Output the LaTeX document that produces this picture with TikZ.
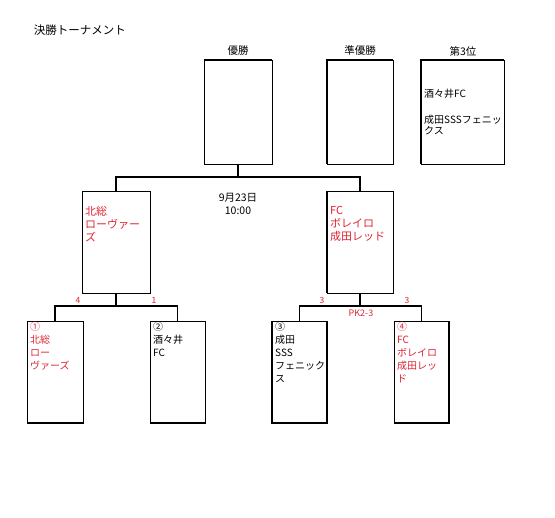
\documentclass[tikz,border=0pt]{standalone}
\usepackage{fontspec}
\setmainfont{Noto Sans CJK JP}
\usetikzlibrary{positioning}
\definecolor{winred}{RGB}{222,36,52}

\begin{document}
\begin{tikzpicture}[x=1pt,y=-1pt,
  box/.style={draw,line width=.7pt,inner sep=0pt,outer sep=0pt},
  heavy/.style={line width=1.8pt},
  bracket/.style={line width=1.8pt},
  team/.style={anchor=north west,align=left,inner sep=0pt,font=\fontsize{10}{13}\selectfont},
  head/.style={font=\fontsize{10.5}{12}\selectfont},
  score/.style={text=winred,font=\fontsize{8.5}{9}\selectfont,inner sep=0pt}]
\useasboundingbox[fill=white] (0,0) rectangle (555,518);
\node[font=\fontsize{11.5}{13}\selectfont] (title) at (80,30) {決勝トーナメント};
% placing boxes
\node[head] (h1) at (238,51) {優勝};
\node[head] (h2) at (360,51) {準優勝};
\node[head] (h3) at (463,51) {第3位};
\node[box,minimum width=68pt,minimum height=104pt] (f1) at (238,112) {};
\node[box,minimum width=66pt,minimum height=104pt] (f2) at (360,112) {};
\node[box,minimum width=83pt,minimum height=104pt] (f3) at (462.5,112) {};
\node[box,minimum width=68pt,minimum height=102pt] (sL) at (116,242) {};
\node[box,minimum width=66pt,minimum height=102pt] (sR) at (360,242) {};
\node[box,minimum width=56pt,minimum height=102pt] (q1) at (55,372) {};
\node[box,minimum width=55pt,minimum height=102pt] (q2) at (177.5,372) {};
\node[box,minimum width=55pt,minimum height=102pt] (q3) at (299.5,372) {};
\node[box,minimum width=55pt,minimum height=102pt] (q4) at (421.5,372) {};
% heavy borders
\draw[heavy] (f1.north west) -- (f1.north east);
\draw[heavy] (f2.south west) -- (f2.north west) -- (f2.north east);
\draw[heavy] (f3.south west) -- (f3.north west) -- (f3.north east);
\draw[heavy] (sR.north west) -- (sR.south west);
\draw[heavy] (q1.south west) -- (q1.south east);
\draw[heavy] (q2.south west) -- (q2.south east);
\draw[heavy] (q3.north west) -- (q3.south west) -- (q3.south east) -- (q3.north east);
\draw[heavy] (q4.south west) -- (q4.south east) -- (q4.north east);
% bracket
\coordinate (jF) at (238,177);
\coordinate (jL) at (116,306);
\coordinate (jR) at (360,306);
\draw[bracket] (f1.south) -- (jF);
\draw[bracket] (sL.north) |- (jF) -| (sR.north);
\draw[bracket] (sL.south) -- (jL);
\draw[bracket] (q1.north) |- (jL) -| (q2.north);
\draw[bracket] (sR.south) -- (jR);
\draw[bracket] (q3.north) |- (jR) -| (q4.north);
% texts
\node[team] (t3a) at ([xshift=3pt,yshift=-29pt]f3.north west) {酒々井FC};
\node[team,font=\fontsize{10}{11}\selectfont] (t3b) at ([xshift=3pt,yshift=-55pt]f3.north west) {成田SSSフェニッ\\クス};
\node[align=center,font=\fontsize{10.5}{13}\selectfont] (date) at (238,203.5) {9月23日\\10:00};
\node[team,text=winred,font=\fontsize{11}{13}\selectfont] (tL) at ([xshift=3pt,yshift=-15.5pt]sL.north west) {北総\\ローヴァー\\ズ};
\node[team,text=winred,font=\fontsize{11}{13}\selectfont] (tR) at ([xshift=3pt,yshift=-15.5pt]sR.north west) {FC\\ボレイロ\\成田レッド};
\node[team,text=winred] (t1) at ([xshift=3pt,yshift=-1pt]q1.north west) {①\\北総\\ロー\\ヴァーズ};
\node[team] (t2) at ([xshift=3pt,yshift=-1pt]q2.north west) {②\\酒々井\\FC};
\node[team] (t3) at ([xshift=3pt,yshift=-1pt]q3.north west) {③\\成田\\SSS\\フェニック\\ス};
\node[team,text=winred] (t4) at ([xshift=3pt,yshift=-1pt]q4.north west) {④\\FC\\ボレイロ\\成田レッ\\ド};
% scores
\node[score] (s1) at (78,300) {4};
\node[score] (s2) at (154,300) {1};
\node[score] (s3) at (322,300) {3};
\node[score] (s4) at (407,300) {3};
\node[score,font=\fontsize{9}{10}\selectfont] (pk) at (361,313) {PK2-3};
\end{tikzpicture}
\end{document}
